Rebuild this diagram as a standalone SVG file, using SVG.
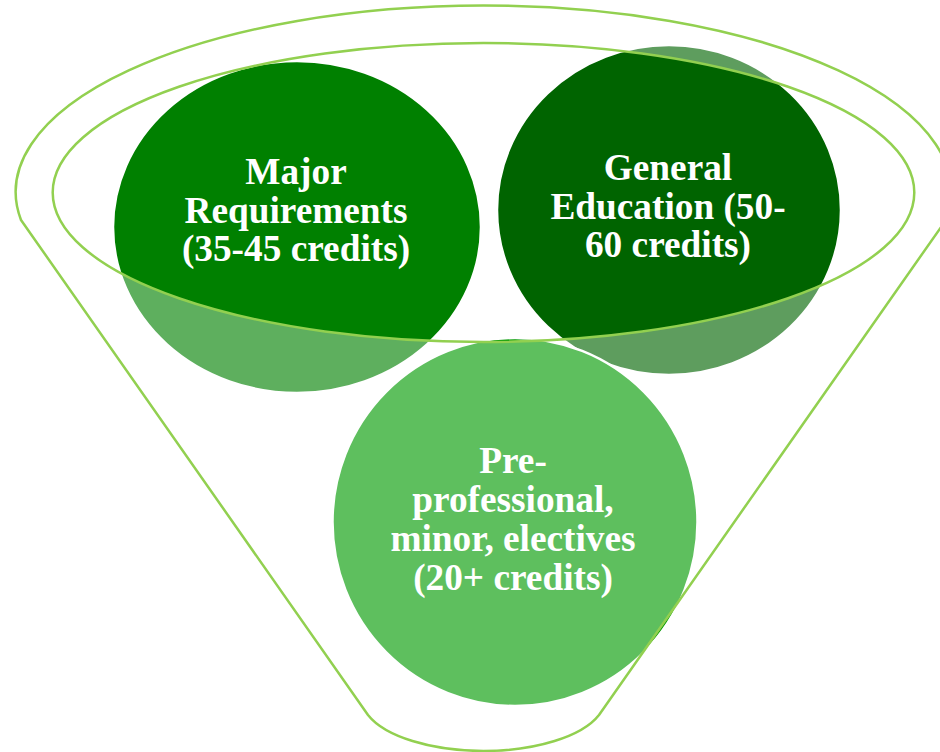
<svg xmlns="http://www.w3.org/2000/svg" width="940" height="752" viewBox="0 0 940 752">
<style>
.lbl{font-family:"Liberation Serif","Times New Roman",serif;font-weight:bold;font-size:37.3px;fill:#fff;text-anchor:middle}
.bub{stroke:#fff;stroke-width:2.5}
.fun{fill:#fff;fill-opacity:0.37;fill-rule:evenodd;stroke:#92D050;stroke-width:2.5;stroke-linejoin:round}
</style>
<rect width="940" height="752" fill="#fff"/>
<g id="node-major">
<ellipse class="bub" cx="297" cy="227" rx="184" ry="166" fill="#008000"/>
<text class="lbl"><tspan x="296" y="184">Major</tspan><tspan x="296" y="222.5">Requirements</tspan><tspan x="296" y="261">(35-45 credits)</tspan></text>
</g>
<g id="node-gened">
<ellipse class="bub" cx="669" cy="210" rx="172" ry="165" fill="#006400"/>
<text class="lbl"><tspan x="668" y="180">General</tspan><tspan x="668" y="218.5">Education (50-</tspan><tspan x="668" y="257">60 credits)</tspan></text>
</g>
<g id="node-preprof">
<ellipse class="bub" cx="515" cy="522" rx="182.5" ry="184" fill="#009A00"/>
<text class="lbl"><tspan x="513" y="473">Pre-</tspan><tspan x="513" y="512">professional,</tspan><tspan x="513" y="551">minor, electives</tspan><tspan x="513" y="590">(20+ credits)</tspan></text>
</g>
<g id="funnel">
<path class="fun" d="M21 220 A467.8 186.5 0 1 1 946 220 L599 715 A122 53 0 0 1 368 715 Z M52.7 192.5 A430.8 149.5 0 1 0 914.3 192.5 A430.8 149.5 0 1 0 52.7 192.5 Z"/>
</g>
</svg>
